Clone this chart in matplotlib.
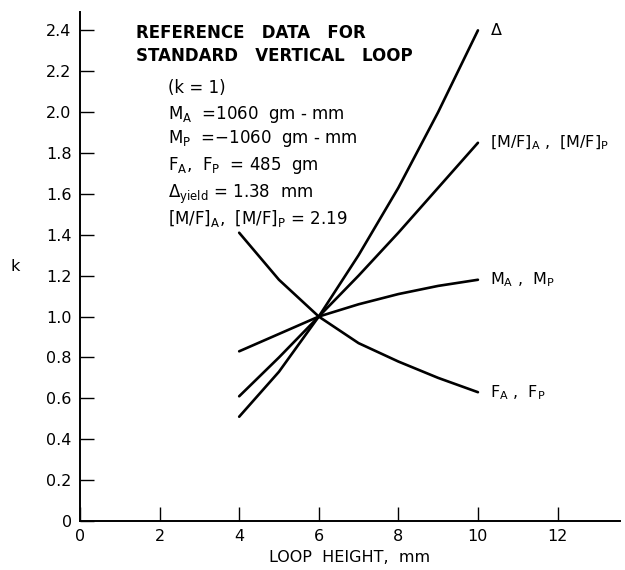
import numpy as np
import matplotlib.pyplot as plt

# loop height (mm) and normalised k values
height = [4, 5, 6, 7, 8, 9, 10]
k_delta = [0.51, 0.73, 1.00, 1.30, 1.63, 2.00, 2.40]
k_mf = [0.61, 0.80, 1.00, 1.20, 1.41, 1.63, 1.85]
k_m = [0.83, 0.915, 1.00, 1.06, 1.11, 1.15, 1.18]
k_f = [1.41, 1.18, 1.00, 0.87, 0.78, 0.70, 0.63]

curve_labels = [r'$\Delta$',
                r'$\mathregular{[M/F]_A}$ ,  $\mathregular{[M/F]_P}$',
                r'$\mathregular{M_A}$ ,  $\mathregular{M_P}$',
                r'$\mathregular{F_A}$ ,  $\mathregular{F_P}$']

xticks = [0, 2, 4, 6, 8, 10, 12]
yticks = [0, 0.2, 0.4, 0.6, 0.8, 1.0, 1.2, 1.4, 1.6, 1.8, 2.0, 2.2, 2.4]
ytick_labels = ['0', '0.2', '0.4', '0.6', '0.8', '1.0', '1.2', '1.4', '1.6',
                '1.8', '2.0', '2.2', '2.4']

plt.rcParams['font.family'] = 'DejaVu Sans'
plt.rcParams['mathtext.default'] = 'regular'

fig = plt.figure(figsize=(6.25, 5.7), dpi=100)
ax = fig.add_axes([0.128, 0.086, 0.864, 0.893])

for ys, lab in zip([k_delta, k_mf, k_m, k_f], curve_labels):
    ax.plot(height, ys, color='black', lw=1.9, solid_capstyle='round')
    ax.text(height[-1] + 0.3, ys[-1], lab, fontsize=11.5, va='center', ha='left')

ax.set_xlim(0, 13.57)
ax.set_ylim(0, 2.49)
ax.set_xticks(xticks)
ax.set_yticks(yticks)
ax.set_yticklabels(ytick_labels)
ax.tick_params(direction='in', length=10, width=1, labelsize=11.5, pad=6)
ax.spines['top'].set_visible(False)
ax.spines['right'].set_visible(False)
ax.spines['left'].set_linewidth(1.4)
ax.spines['bottom'].set_linewidth(1.4)

ax.set_xlabel('LOOP  HEIGHT,  mm', fontsize=11.5, labelpad=4)
ax.set_ylabel('k', fontsize=11.5, rotation=0, labelpad=22, va='center')

ax.text(1.4, 2.33, 'REFERENCE   DATA   FOR\nSTANDARD   VERTICAL   LOOP', fontsize=12,
        fontweight='bold', va='center', ha='left', linespacing=1.35)
info = ['(k = 1)',
        r'$M_A$  =1060  gm - mm',
        r'$M_P$  =$-$1060  gm - mm',
        r'$F_A$,  $F_P$  = 485  gm',
        r'$\Delta_{yield}$ = 1.38  mm',
        r'$[M/F]_A$,  $[M/F]_P$ = 2.19']
info_y = [2.12, 1.99, 1.87, 1.74, 1.60, 1.48]
for t, y in zip(info, info_y):
    ax.text(2.2, y, t, fontsize=12, va='center', ha='left')

fig.savefig('out.png', dpi=100)
